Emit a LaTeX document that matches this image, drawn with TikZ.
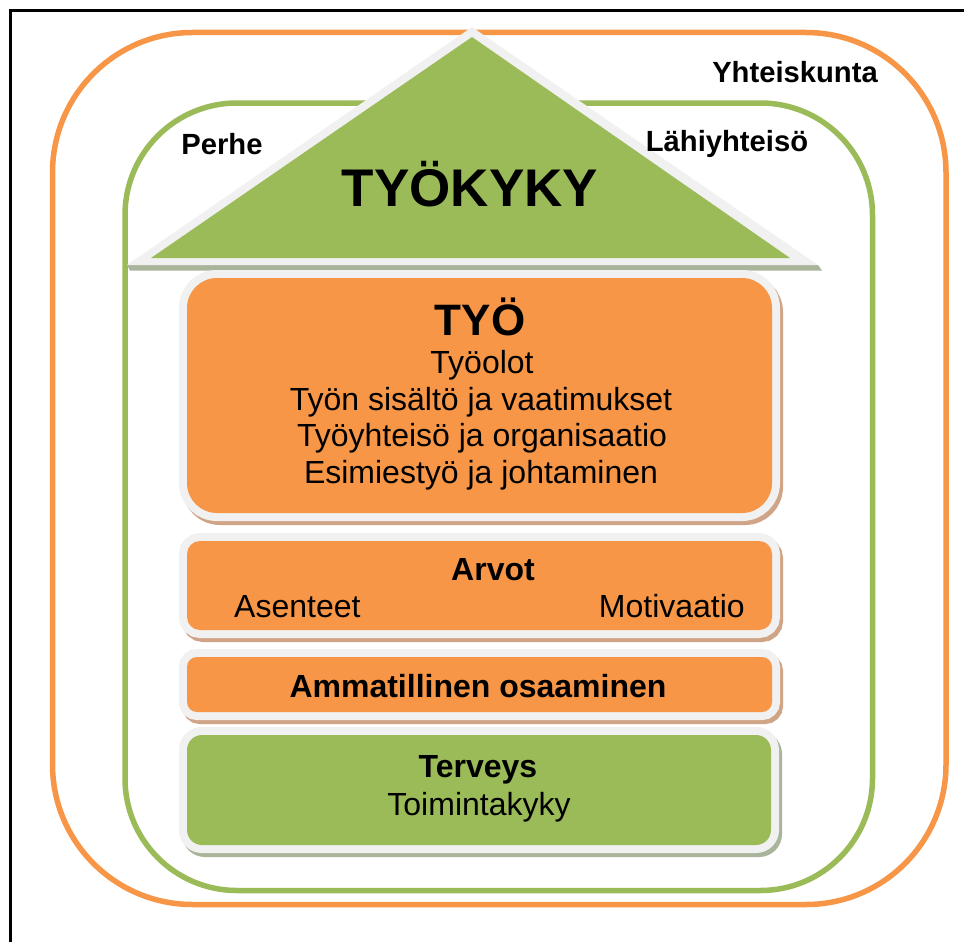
\documentclass[tikz,border=0pt]{standalone}
\usepackage{fontspec}
\setmainfont{Liberation Sans}
\definecolor{kykyorange}{HTML}{F79646}
\definecolor{kykygreen}{HTML}{9BBB59}
\definecolor{bevel}{HTML}{F1F1F1}
\definecolor{tanshadow}{HTML}{D0A486}
\definecolor{sageshadow}{HTML}{A9B59B}

% one layer of the house: x1 y1 x2 y2 radius fill shadow
\newcommand\kerros[7]{%
  \draw[line width=16pt, draw=#7, fill=#7, rounded corners=#5] (#1+3,#2+4) rectangle (#3+3,#4+4);
  \draw[line width=16pt, draw=bevel, fill=bevel, rounded corners=#5] (#1,#2) rectangle (#3,#4);
  \fill[#6, rounded corners=#5] (#1,#2) rectangle (#3,#4);
}

\tikzset{
  ring/.style={line width=5.5pt, rounded corners=#1},
  txt/.style={inner sep=0pt, anchor=base, text=black},
  big/.style={txt, font=\fontsize{53}{62}\selectfont\bfseries},
  head/.style={txt, font=\fontsize{44}{52}\selectfont\bfseries},
  body/.style={txt, font=\fontsize{32}{38}\selectfont},
  bodyb/.style={txt, font=\fontsize{32}{38}\selectfont\bfseries},
  circle label/.style={txt, font=\fontsize{29.2}{35}\selectfont\bfseries},
}

\begin{document}
\begin{tikzpicture}[x=1pt, y=-1pt]
  \useasboundingbox (0,0) rectangle (964,942);
  \clip (0,0) rectangle (964,942);
  \fill[white] (0,0) rectangle (964,942);

  % frame
  \draw[line width=3pt] (10.5,980) -- (10.5,10.5) -- (990,10.5);

  % society and close community
  \draw[ring=140pt, kykyorange] (52.5,32.5) rectangle (946,904.5);
  \draw[ring=112pt, kykygreen] (125,103) rectangle (872.5,890.5);

  % roof
  \fill[sageshadow] (127,265) -- (818,265) -- (822,270.5) -- (130,270.5) -- cycle;
  \fill[bevel] (472,27) -- (818,265) -- (127,265) -- cycle;
  \fill[kykygreen] (472,37) -- (790,258) -- (151,258) -- cycle;

  % floors
  \kerros{187}{278}{772}{513}{30pt}{kykyorange}{tanshadow}
  \kerros{187}{541}{772}{630}{13pt}{kykyorange}{tanshadow}
  \kerros{187}{657}{772}{712}{10pt}{kykyorange}{tanshadow}
  \kerros{187}{735}{771}{845}{15pt}{kykygreen}{sageshadow}

  % labels
  \node[circle label] (yhteiskunta) at (795,82) {Yhteiskunta};
  \node[circle label] (lahiyhteiso) at (727,151) {Lähiyhteisö};
  \node[circle label] (perhe) at (222,154) {Perhe};

  \node[big] (tyokyky) at (470,206) {TYÖKYKY};

  \node[head] (tyo) at (480,335) {TYÖ};
  \node[body] (tyoolot) at (482,373) {Työolot};
  \node[body] (sisalto) at (481,410) {Työn sisältö ja vaatimukset};
  \node[body] (yhteiso) at (482,446) {Työyhteisö ja organisaatio};
  \node[body] (esimies) at (481,483) {Esimiestyö ja johtaminen};

  \node[bodyb] (arvot) at (493,580) {Arvot};
  \node[body, anchor=base west] (asenteet) at (234,617) {Asenteet};
  \node[body, anchor=base east] (motivaatio) at (745,617) {Motivaatio};

  \node[bodyb] (osaaminen) at (478,697) {Ammatillinen osaaminen};

  \node[bodyb] (terveys) at (478,777) {Terveys};
  \node[body] (toimintakyky) at (479,815) {Toimintakyky};
\end{tikzpicture}
\end{document}
